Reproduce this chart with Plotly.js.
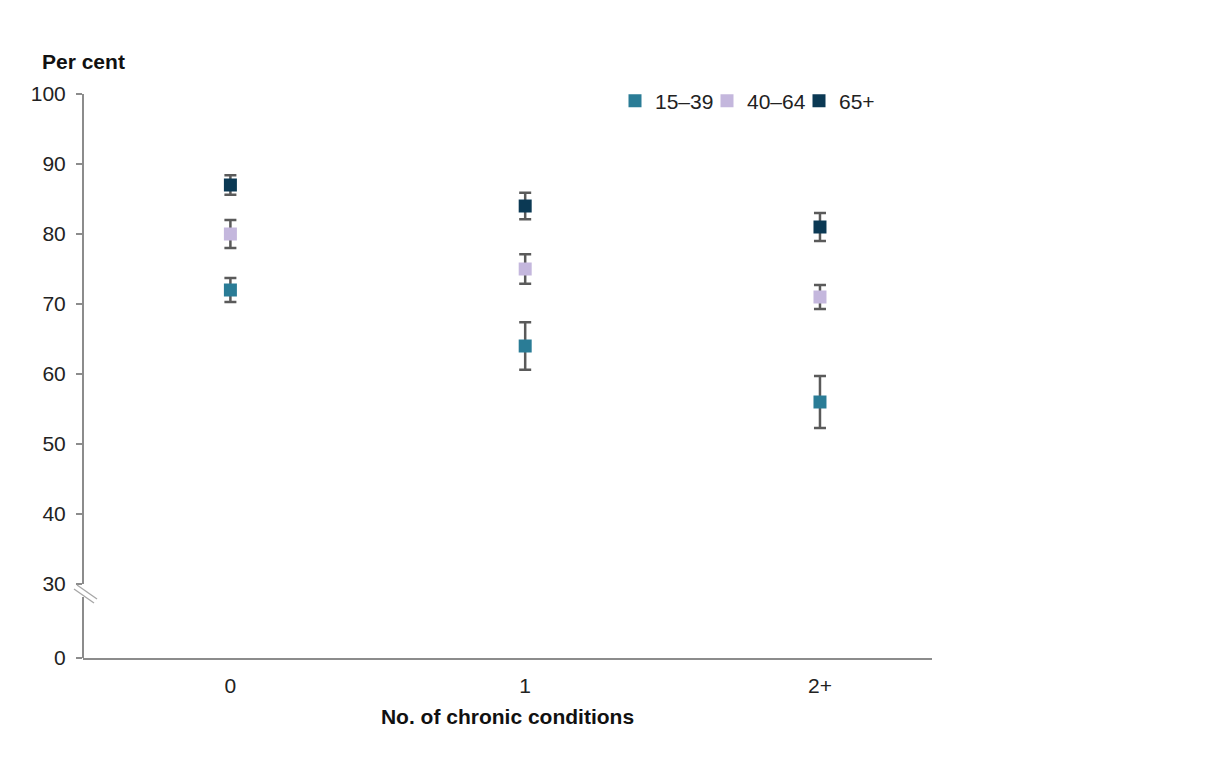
<!DOCTYPE html>
<html>
<head>
<meta charset="utf-8">
<script src="https://cdn.plot.ly/plotly-3.0.1.min.js"></script>
<style>
  html, body { margin: 0; padding: 0; background: #ffffff; }
  #chart { width: 1223px; height: 758px; }
</style>
</head>
<body>
<div id="chart"></div>
<script>
// Number of chronic conditions (x categories)
const categories = ['0', '1', '2+'];

// Per cent by age group, with error margins (±)
const age15to39 = [72, 64, 56];
const err15to39 = [1.7, 3.4, 3.7];

const age40to64 = [80, 75, 71];
const err40to64 = [2.0, 2.1, 1.7];

const age65plus = [87, 84, 81];
const err65plus = [1.4, 1.9, 2.0];

const seriesNames = ['15–39', '40–64', '65+'];
const seriesColors = ['#2a7c96', '#c4b7dd', '#0b3954'];

// Y tick labels (axis is broken between 0 and 30)
const yTickValues = [0, 30, 40, 50, 60, 70, 80, 90, 100];

// The 0–30 stretch is compressed: 0 sits a short gap below 30
const ZERO_POS = 30 - 74 / 7;
const axisPos = v => (v === 0 ? ZERO_POS : v);

const values = [age15to39, age40to64, age65plus];
const errors = [err15to39, err40to64, err65plus];

const traces = values.map((vals, i) => ({
  type: 'scatter',
  mode: 'markers',
  name: seriesNames[i],
  x: categories,
  y: vals,
  marker: { symbol: 'square', size: 13, color: seriesColors[i] },
  error_y: {
    type: 'data',
    array: errors[i],
    visible: true,
    color: '#5a5a5a',
    thickness: 2.5,
    width: 6
  },
  hoverinfo: 'x+y+name'
}));

const axisGrey = '#8c8c8c';
const plotW = 1223 - 83 - 291;
const px = p => (p - 83) / plotW;          // pixel column → paper x
const pyData = p => 100 - (p - 94) / 7;    // pixel row → axis value

const shapes = [
  // upper y-axis segment (30–100)
  { type: 'line', xref: 'paper', yref: 'y', x0: 0, x1: 0, y0: 30, y1: 100,
    line: { color: axisGrey, width: 2 } },
  // lower y-axis segment (below the break)
  { type: 'line', xref: 'paper', yref: 'y', x0: 0, x1: 0, y0: ZERO_POS, y1: pyData(597),
    line: { color: axisGrey, width: 2 } },
  // break marks
  { type: 'line', xref: 'paper', yref: 'y', x0: px(74), x1: px(94), y0: pyData(589), y1: pyData(603),
    line: { color: '#a6a6a6', width: 1.3 } },
  { type: 'line', xref: 'paper', yref: 'y', x0: px(77), x1: px(97), y0: pyData(585), y1: pyData(599),
    line: { color: '#a6a6a6', width: 1.3 } }
];

const font = { family: 'Liberation Sans, Arial, sans-serif', size: 21, color: '#222222' };
const boldFont = { family: font.family, size: 21, color: '#111111' };

const layout = {
  width: 1223,
  height: 758,
  margin: { l: 83, r: 291, t: 94, b: 100, pad: 0 },
  paper_bgcolor: '#ffffff',
  plot_bgcolor: '#ffffff',
  font: font,
  showlegend: true,
  legend: {
    orientation: 'h',
    x: px(615),
    xanchor: 'left',
    y: (658 - 101) / 564,
    yanchor: 'middle',
    entrywidth: 47,
    entrywidthmode: 'pixels',
    font: font,
    bgcolor: 'rgba(0,0,0,0)',
    traceorder: 'normal'
  },
  xaxis: {
    type: 'category',
    range: [-0.5, 2.38],
    showline: true,
    linecolor: axisGrey,
    linewidth: 2,
    showgrid: false,
    zeroline: false,
    ticks: '',
    ticklabelstandoff: 8,
    tickfont: font,
    fixedrange: true,
    title: {
      text: '<b>No. of chronic conditions</b>',
      font: boldFont,
      standoff: 13
    }
  },
  yaxis: {
    range: [ZERO_POS, 100],
    showline: false,
    showgrid: false,
    zeroline: false,
    ticks: 'outside',
    ticklen: 6,
    tickwidth: 2,
    tickcolor: axisGrey,
    ticklabelstandoff: 6,
    tickmode: 'array',
    tickvals: yTickValues.map(axisPos),
    ticktext: yTickValues.map(String),
    tickfont: font,
    fixedrange: true
  },
  shapes: shapes,
  annotations: [
    {
      text: '<b>Per cent</b>',
      xref: 'paper', yref: 'paper',
      x: px(40), y: (658 - 62) / 564,
      xanchor: 'left', yanchor: 'middle',
      showarrow: false,
      font: boldFont
    }
  ]
};

Plotly.newPlot('chart', traces, layout, { displayModeBar: false, staticPlot: true });
</script>
</body>
</html>
